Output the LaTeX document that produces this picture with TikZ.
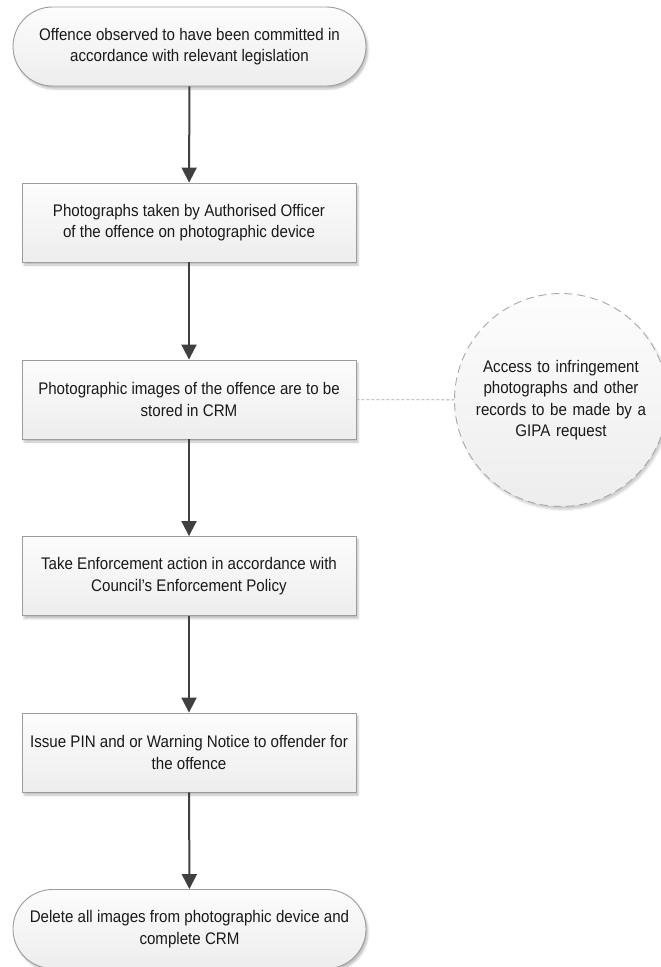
\documentclass[tikz,border=0pt]{standalone}
\usepackage{fontspec}
\setmainfont{Liberation Sans}[FakeStretch=0.9]
\usepackage{xcolor}
\usetikzlibrary{arrows.meta, shadows.blur}
\definecolor{linecolor}{HTML}{404040}
\definecolor{edgecolor}{HTML}{9C9C9C}
\definecolor{notecolor}{HTML}{A8A8A8}

\begin{document}
\begin{tikzpicture}[
    x=1pt, y=1pt,
    font=\fontsize{16.8}{21.5}\selectfont,
    stepbox/.style={draw=edgecolor, line width=0.9pt, top color=gray!2, bottom color=gray!14,
        minimum width=334pt, minimum height=79pt, align=center, text=black!90,
        blur shadow={shadow xshift=2pt, shadow yshift=-3pt, shadow blur radius=2pt, shadow opacity=25}},
    terminal/.style={stepbox, rounded corners=39.5pt, minimum width=353pt},
    note/.style={circle, draw=notecolor, line width=0.9pt, dash pattern=on 8pt off 5pt,
        top color=gray!2, bottom color=gray!14, minimum size=213pt, inner sep=0pt,
        text width=175pt, align=center, text=black!90,
        blur shadow={shadow xshift=2pt, shadow yshift=-3pt, shadow blur radius=2pt, shadow opacity=20}},
    flow/.style={draw=linecolor, line width=2pt, -{Triangle[length=15pt,width=15pt]}},
    link/.style={draw=notecolor, line width=0.8pt, dash pattern=on 3pt off 2pt}
]
\useasboundingbox (0,0) rectangle (661,-967);

% Steps
\node[terminal] (observed) at (189.5,-46.5) {Offence observed to have been committed in\\accordance with relevant legislation};
\node[stepbox] (photos) at (189,-222.5) {Photographs taken by Authorised Officer\\of the offence on photographic device};
\node[stepbox] (stored) at (189,-399.5) {Photographic images of the offence are to be\\stored in CRM};
\node[stepbox] (enforce) at (189,-576) {Take Enforcement action in accordance with\\Council's Enforcement Policy};
\node[stepbox] (notice) at (189,-752.5) {Issue PIN and or Warning Notice to offender for\\the offence};
\node[terminal] (delete) at (189.5,-929) {Delete all images from photographic device and\\complete CRM};

% Side note
\node[note] (gipa) at (561,-400) {Access to infringement\\photographs and other\\records to be made by a\\GIPA request};

% Connectors
\draw[flow] (observed) -- (photos);
\draw[flow] (photos) -- (stored);
\draw[flow] (stored) -- (enforce);
\draw[flow] (enforce) -- (notice);
\draw[flow] (notice) -- (delete);
\draw[link] (stored) -- (gipa);
\end{tikzpicture}
\end{document}
